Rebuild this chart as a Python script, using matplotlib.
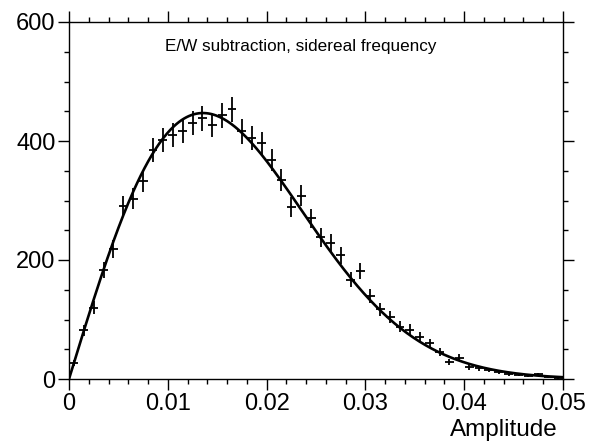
import numpy as np
import matplotlib
matplotlib.use("Agg")
import matplotlib.pyplot as plt
from matplotlib.ticker import MultipleLocator

plt.rcParams['font.family'] = ['Liberation Sans', 'DejaVu Sans']

# Histogram: 50 bins between 0 and 0.05
bin_edges = np.linspace(0.0, 0.05, 51)
counts = [27, 82, 120, 183, 219, 290, 303, 333, 385, 401,
          410, 417, 430, 438, 427, 443, 453, 416, 405, 396,
          368, 335, 289, 308, 270, 238, 229, 208, 167, 181,
          139, 117, 104, 88, 83, 70, 60, 45, 28, 36,
          20, 18, 15, 12, 8, 7, 5, 8, 3, 1]

# Rayleigh-shaped fit curve parameters
fit_peak = 447.0
fit_sigma = 0.01356

title_text = "E/W subtraction, sidereal frequency"
x_label = "Amplitude"
x_ticks = [0, 0.01, 0.02, 0.03, 0.04, 0.05]
x_ticklabels = ["0", "0.01", "0.02", "0.03", "0.04", "0.05"]
y_ticks = [0, 200, 400, 600]
y_ticklabels = ["0", "200", "400", "600"]

W, H = 601, 447
fig = plt.figure(figsize=(W / 100, H / 100), dpi=100)
ax = fig.add_axes([69 / W, 1 - 379 / H, (563 - 69) / W, (379 - 22) / H])

centers = 0.5 * (bin_edges[:-1] + bin_edges[1:])
half_w = 0.5 * (bin_edges[1] - bin_edges[0])
counts_arr = np.array(counts, dtype=float)
ax.errorbar(centers, counts_arr, xerr=half_w * 0.9, yerr=np.sqrt(counts_arr),
            fmt='none', ecolor='black', elinewidth=1.3, capsize=0, zorder=3)

xx = np.linspace(0, 0.05, 400)
r = xx / fit_sigma
yy = fit_peak * r * np.exp(0.5 * (1 - r ** 2))
ax.plot(xx, yy, color='black', lw=1.9, zorder=4)

ax.set_xlim(0, 0.05)
ax.set_ylim(0, 600)
ax.set_xticks(x_ticks)
ax.set_xticklabels(x_ticklabels)
ax.set_yticks(y_ticks)
ax.set_yticklabels(y_ticklabels)
ax.xaxis.set_minor_locator(MultipleLocator(0.002))
ax.yaxis.set_minor_locator(MultipleLocator(50))
ax.tick_params(which='both', direction='out', top=True, right=True,
               labeltop=False, labelright=False, width=1.0, labelsize=17)
ax.tick_params(which='major', length=7.8, pad=2)
ax.tick_params(which='minor', length=3.8)
for s in ax.spines.values():
    s.set_linewidth(1.0)

fig.text(301 / W, 1 - 51 / H, title_text, ha='center', va='baseline', fontsize=12.3)
fig.text(558 / W, 1 - 436 / H, x_label, ha='right', va='baseline', fontsize=17.5)

fig.savefig("out.png", dpi=100)
